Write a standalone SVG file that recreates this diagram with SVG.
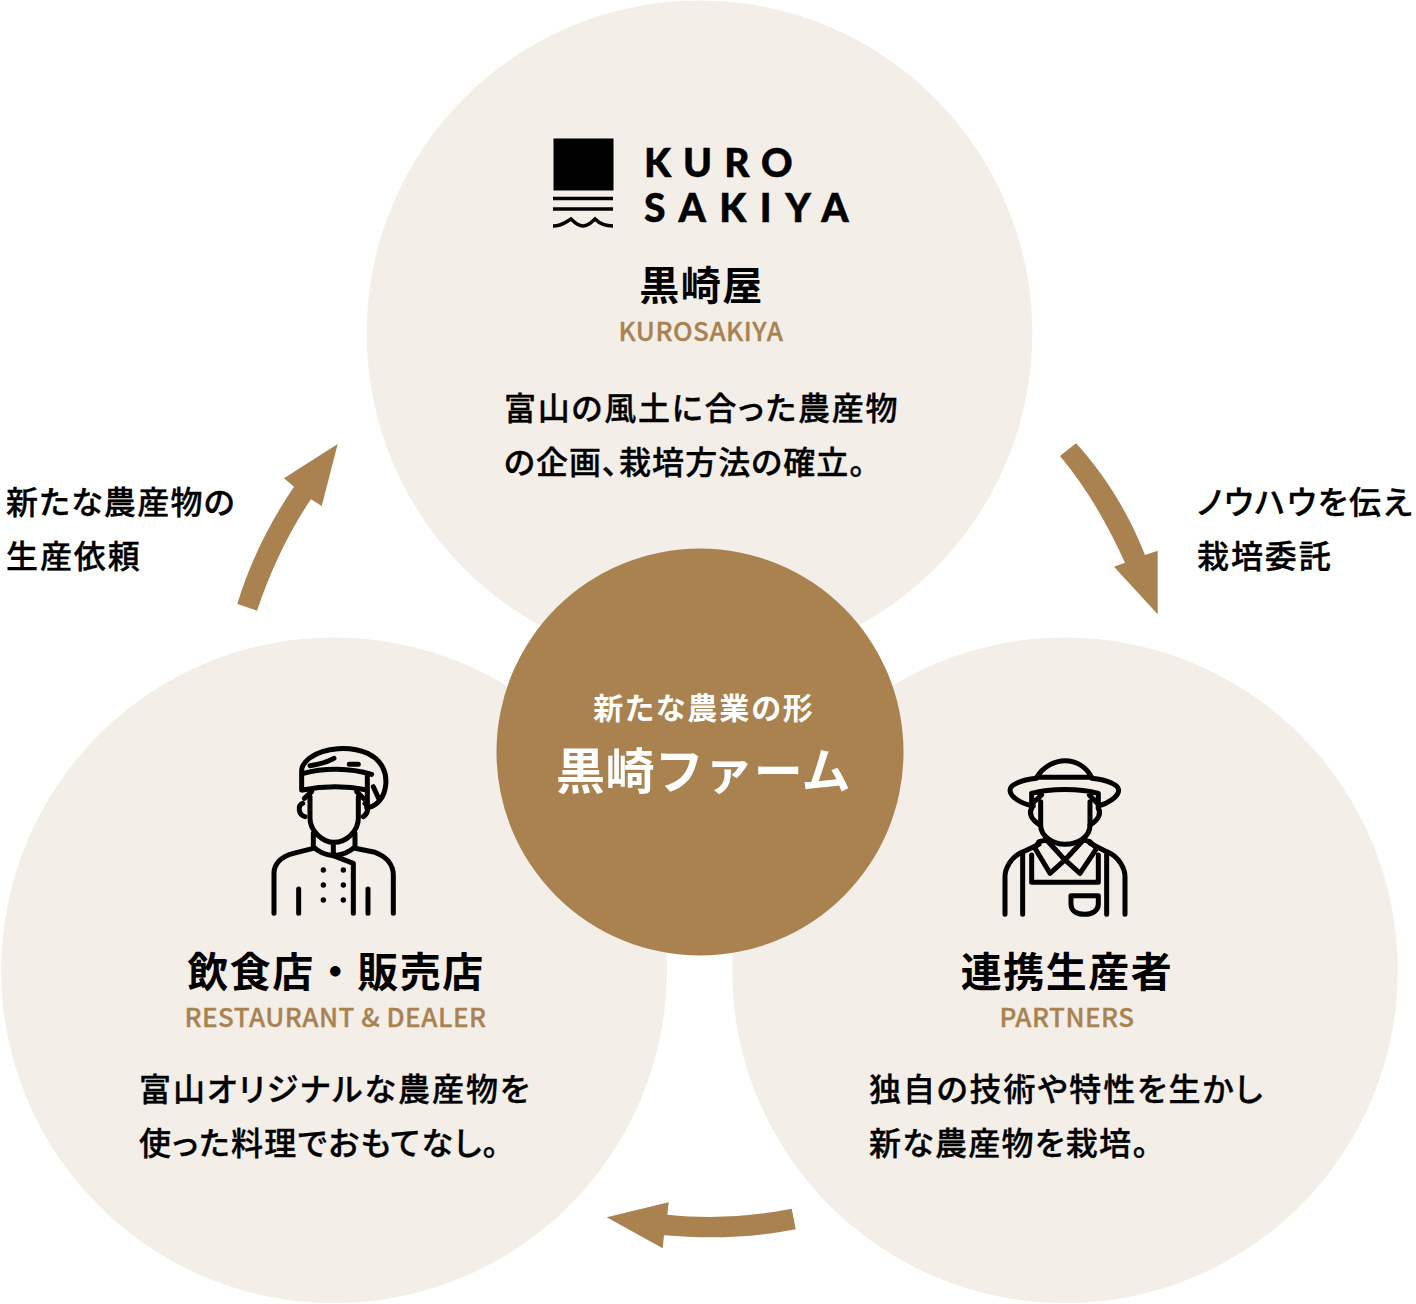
<svg xmlns="http://www.w3.org/2000/svg" width="1416" height="1304" viewBox="0 0 1416 1304">
<style>
text{font-family:"Noto Sans CJK JP","Noto Sans",sans-serif}
.body{font-size:32px;font-weight:500;fill:#000;stroke:#000;stroke-width:.35px;font-feature-settings:"palt"}
.title{font-size:41px;font-weight:700;letter-spacing:1.500px;fill:#000;text-anchor:middle}
.sub{font-size:26px;font-weight:500;letter-spacing:.5px;fill:#a98250;stroke:#a98250;stroke-width:.3px;text-anchor:middle}
.bg{fill:#f3eee8}
.arrow{fill:#a98250}
.ico{fill:none;stroke:#000;stroke-width:15;stroke-linecap:round;stroke-linejoin:round}
.logo{font-family:Lato,"Liberation Sans",sans-serif;font-weight:900;font-size:39px;fill:#000;stroke:#000;stroke-width:.5px}
</style>
<g id="node-kurosakiya">
<circle class="bg" cx="699.500" cy="333.300" r="332.800"/>
<rect x="553.500" y="138.500" width="60" height="52"/>
<path d="M553 198.500H613M553 209H613M553 226C562 226 566 222 571 219C576 224 580 226 583 226C587 226 591 223 595 219C600 224 606 226 613 226" fill="none" stroke="#000" stroke-width="3.500"/>
<text class="logo" x="644" y="177" letter-spacing="12">KURO</text>
<text class="logo" x="644" y="222" letter-spacing="13.500">SAKIYA</text>
<text class="title" x="701.500" y="300" style="font-size:40px">黒崎屋</text>
<text class="sub" x="701" y="341">KUROSAKIYA</text>
<text class="body" x="504" y="420" letter-spacing="1.800">富山の風土に合った農産物</text>
<text class="body" x="504" y="474" letter-spacing="1.050">の企画、栽培方法の確立。</text>
</g>
<g id="node-restaurant">
<circle class="bg" cx="334" cy="970.300" r="332.800"/>
<g class="ico" transform="translate(260 735) scale(.3333)">
<path d="M125 165V105C125 90 138 78 150 68C195 36 270 32 325 56C365 75 384 115 376 158C370 195 345 215 320 218"/>
<path d="M128 165C190 153 260 153 322 165M130 115C190 98 270 98 335 118M322 118V220"/>
<path d="M150 92C175 88 200 82 222 70M268 88H295M340 155L358 195"/>
<path d="M150 185V250C150 290 190 322 222 322C258 322 295 290 295 250V185"/>
<path d="M133 190L155 170M310 190L290 170M128 205C112 212 115 240 135 245M315 205C328 212 325 235 310 245"/>
<path d="M160 295V335C175 350 200 360 220 362L280 385V535M285 295V335C270 350 245 360 220 362V325"/>
<path d="M160 340L100 355C60 365 42 390 42 415V535M285 340L345 352C380 365 400 390 400 420V535M116 462V535M324 462V535"/>
<path d="M190 405h.1M250 405h.1M190 450h.1M250 450h.1M190 495h.1M250 495h.1" stroke-width="16"/>
</g>
<text class="title" x="336" y="987">飲食店・販売店</text>
<text class="sub" x="335.500" y="1027">RESTAURANT &amp; DEALER</text>
<text class="body" x="139" y="1101" letter-spacing="2">富山オリジナルな農産物を</text>
<text class="body" x="139" y="1155" letter-spacing="1.300">使った料理でおもてなし。</text>
</g>
<g id="node-partners">
<circle class="bg" cx="1065" cy="970.300" r="332.800"/>
<g class="ico" transform="translate(990 745) scale(.3333)">
<path d="M140 97C160 64 195 47 225 47C260 47 290 67 305 97M140 97H305"/>
<path d="M140 100C90 105 60 120 60 135C60 155 90 175 130 183M305 100C355 105 386 120 386 135C386 155 355 175 325 183"/>
<path d="M125 145C180 130 270 130 325 145V190M125 145V190M127 175L155 150M298 150L325 178"/>
<path d="M152 170V240C152 275 190 298 225 298C265 298 300 275 300 240V170"/>
<path d="M125 190C115 205 125 225 150 240M325 190C335 205 325 225 300 240"/>
<path d="M147 290L135 310L180 385L225 345L270 385L320 310L300 290L280 285L225 345L170 285Z"/>
<path d="M125 330V412H325V330"/>
<path d="M147 298L100 320C60 335 45 375 45 395V508M98 325V508M350 325V508M300 295L350 320C390 335 405 375 405 395V508"/>
<path d="M243 452H325V478C325 498 305 508 285 508C260 508 243 498 243 478Z"/>
</g>
<text class="title" x="1067" y="987">連携生産者</text>
<text class="sub" x="1067" y="1027">PARTNERS</text>
<text class="body" x="869" y="1101" letter-spacing="1.900">独自の技術や特性を生かし</text>
<text class="body" x="869" y="1155" letter-spacing="1.300">新な農産物を栽培。</text>
</g>
<g id="node-center">
<circle cx="700" cy="752" r="203.500" fill="#a98250"/>
<text x="704" y="719" text-anchor="middle" font-size="30" font-weight="700" letter-spacing="2" fill="#fff" style="font-feature-settings:'palt'">新たな農業の形</text>
<text x="703.500" y="789" text-anchor="middle" font-size="49" font-weight="700" letter-spacing=".4" fill="#fff">黒崎ファーム</text>
</g>
<g id="connectors">
<path class="arrow" d="M1060 456L1076 443.300C1105 475 1128 512 1145 555L1157.700 550.700V614.300L1114 566.700L1125 562.700C1107 523 1086 487 1060 456Z"/>
<path class="arrow" d="M237.300 604L257 610.700C270 572 288 533 311 499.300L321.700 506L337.700 444L284 478.300L294 486.700C270 522 250 562 237.300 604Z"/>
<path class="arrow" d="M791.700 1208.700L795.700 1229.300C750 1238 710 1239 664 1235.300L662.700 1248.300L606.700 1217.300L668.700 1202.300L667.300 1214.700C710 1219 750 1217 791.700 1208.700Z"/>
</g>
<g id="labels">
<text class="body" x="6" y="514" letter-spacing="1.300">新たな農産物の</text>
<text class="body" x="6" y="568" letter-spacing="1.900">生産依頼</text>
<text class="body" x="1197" y="514" letter-spacing="1.800">ノウハウを伝え</text>
<text class="body" x="1197" y="568" letter-spacing="1.900">栽培委託</text>
</g>
</svg>
